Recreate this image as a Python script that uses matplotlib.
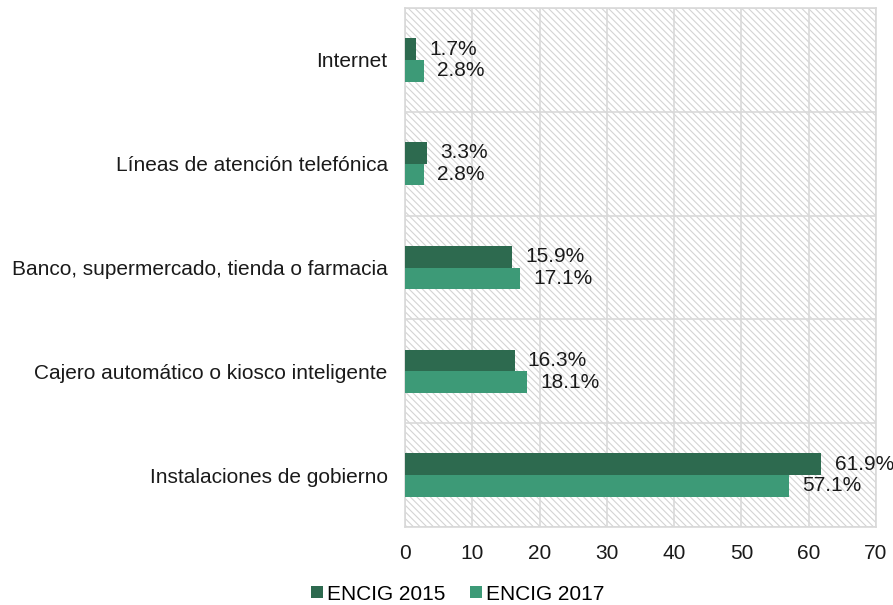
import matplotlib
matplotlib.use("Agg")
import matplotlib.pyplot as plt
import numpy as np

categorias = ["Instalaciones de gobierno",
              "Cajero automático o kiosco inteligente",
              "Banco, supermercado, tienda o farmacia",
              "Líneas de atención telefónica",
              "Internet"]
encig_2015 = [61.9, 16.3, 15.9, 3.3, 1.7]
encig_2017 = [57.1, 18.1, 17.1, 2.8, 2.8]
series = ["ENCIG 2015", "ENCIG 2017"]
colores = ["#2d6a4f", "#3d9a77"]

plt.rcParams['font.family'] = ['Liberation Sans', 'DejaVu Sans']
plt.rcParams['hatch.color'] = '#d4d4d4'
plt.rcParams['hatch.linewidth'] = 0.8

fs = 15
fig = plt.figure(figsize=(8.93, 6.05), dpi=100)
ax = fig.add_axes([405/893, 1-527/605, (876-405)/893, (527-8)/605])

ax.patch.set_facecolor("white")
ax.patch.set_hatch("\\\\\\\\\\")
ax.patch.set_edgecolor("#d4d4d4")

y = np.arange(len(categorias))
h = 0.21
b1 = ax.barh(y + h/2, encig_2015, height=h, color=colores[0], label=series[0], zorder=3)
b2 = ax.barh(y - h/2, encig_2017, height=h, color=colores[1], label=series[1], zorder=3)

for bars in (b1, b2):
    for r in bars:
        v = r.get_width()
        ax.annotate(f"{v:.1f}%", (v, r.get_y() + r.get_height()/2),
                    xytext=(9.5, 0), textcoords="offset points",
                    va="center", ha="left", fontsize=fs, color="#1a1a1a", zorder=4)

ax.set_xlim(0, 70)
ax.set_ylim(-0.5, len(categorias) - 0.5)
ax.set_xticks(np.arange(0, 71, 10))
ax.set_yticks(y)
ax.set_yticklabels(categorias)
ax.set_yticks(np.arange(-0.5, len(categorias), 1), minor=True)
ax.tick_params(axis="both", which="both", length=0, labelsize=fs, colors="#1a1a1a")
ax.tick_params(axis="y", pad=12.5)
ax.tick_params(axis="x", pad=12)
ax.grid(axis="x", which="major", color="#d9d9d9", linewidth=1.2, zorder=1)
ax.grid(axis="y", which="minor", color="#d9d9d9", linewidth=1.2, zorder=1)
for s in ax.spines.values():
    s.set_color("#d9d9d9")
    s.set_linewidth(1.2)

fig.legend(handles=[b1, b2], labels=series, loc="center", bbox_to_anchor=(458/893, 1-594/605),
           ncol=2, frameon=False, fontsize=fs, handlelength=0.55, handleheight=0.55,
           handletextpad=0.2, columnspacing=1.2)

fig.savefig("out.png", dpi=100)
